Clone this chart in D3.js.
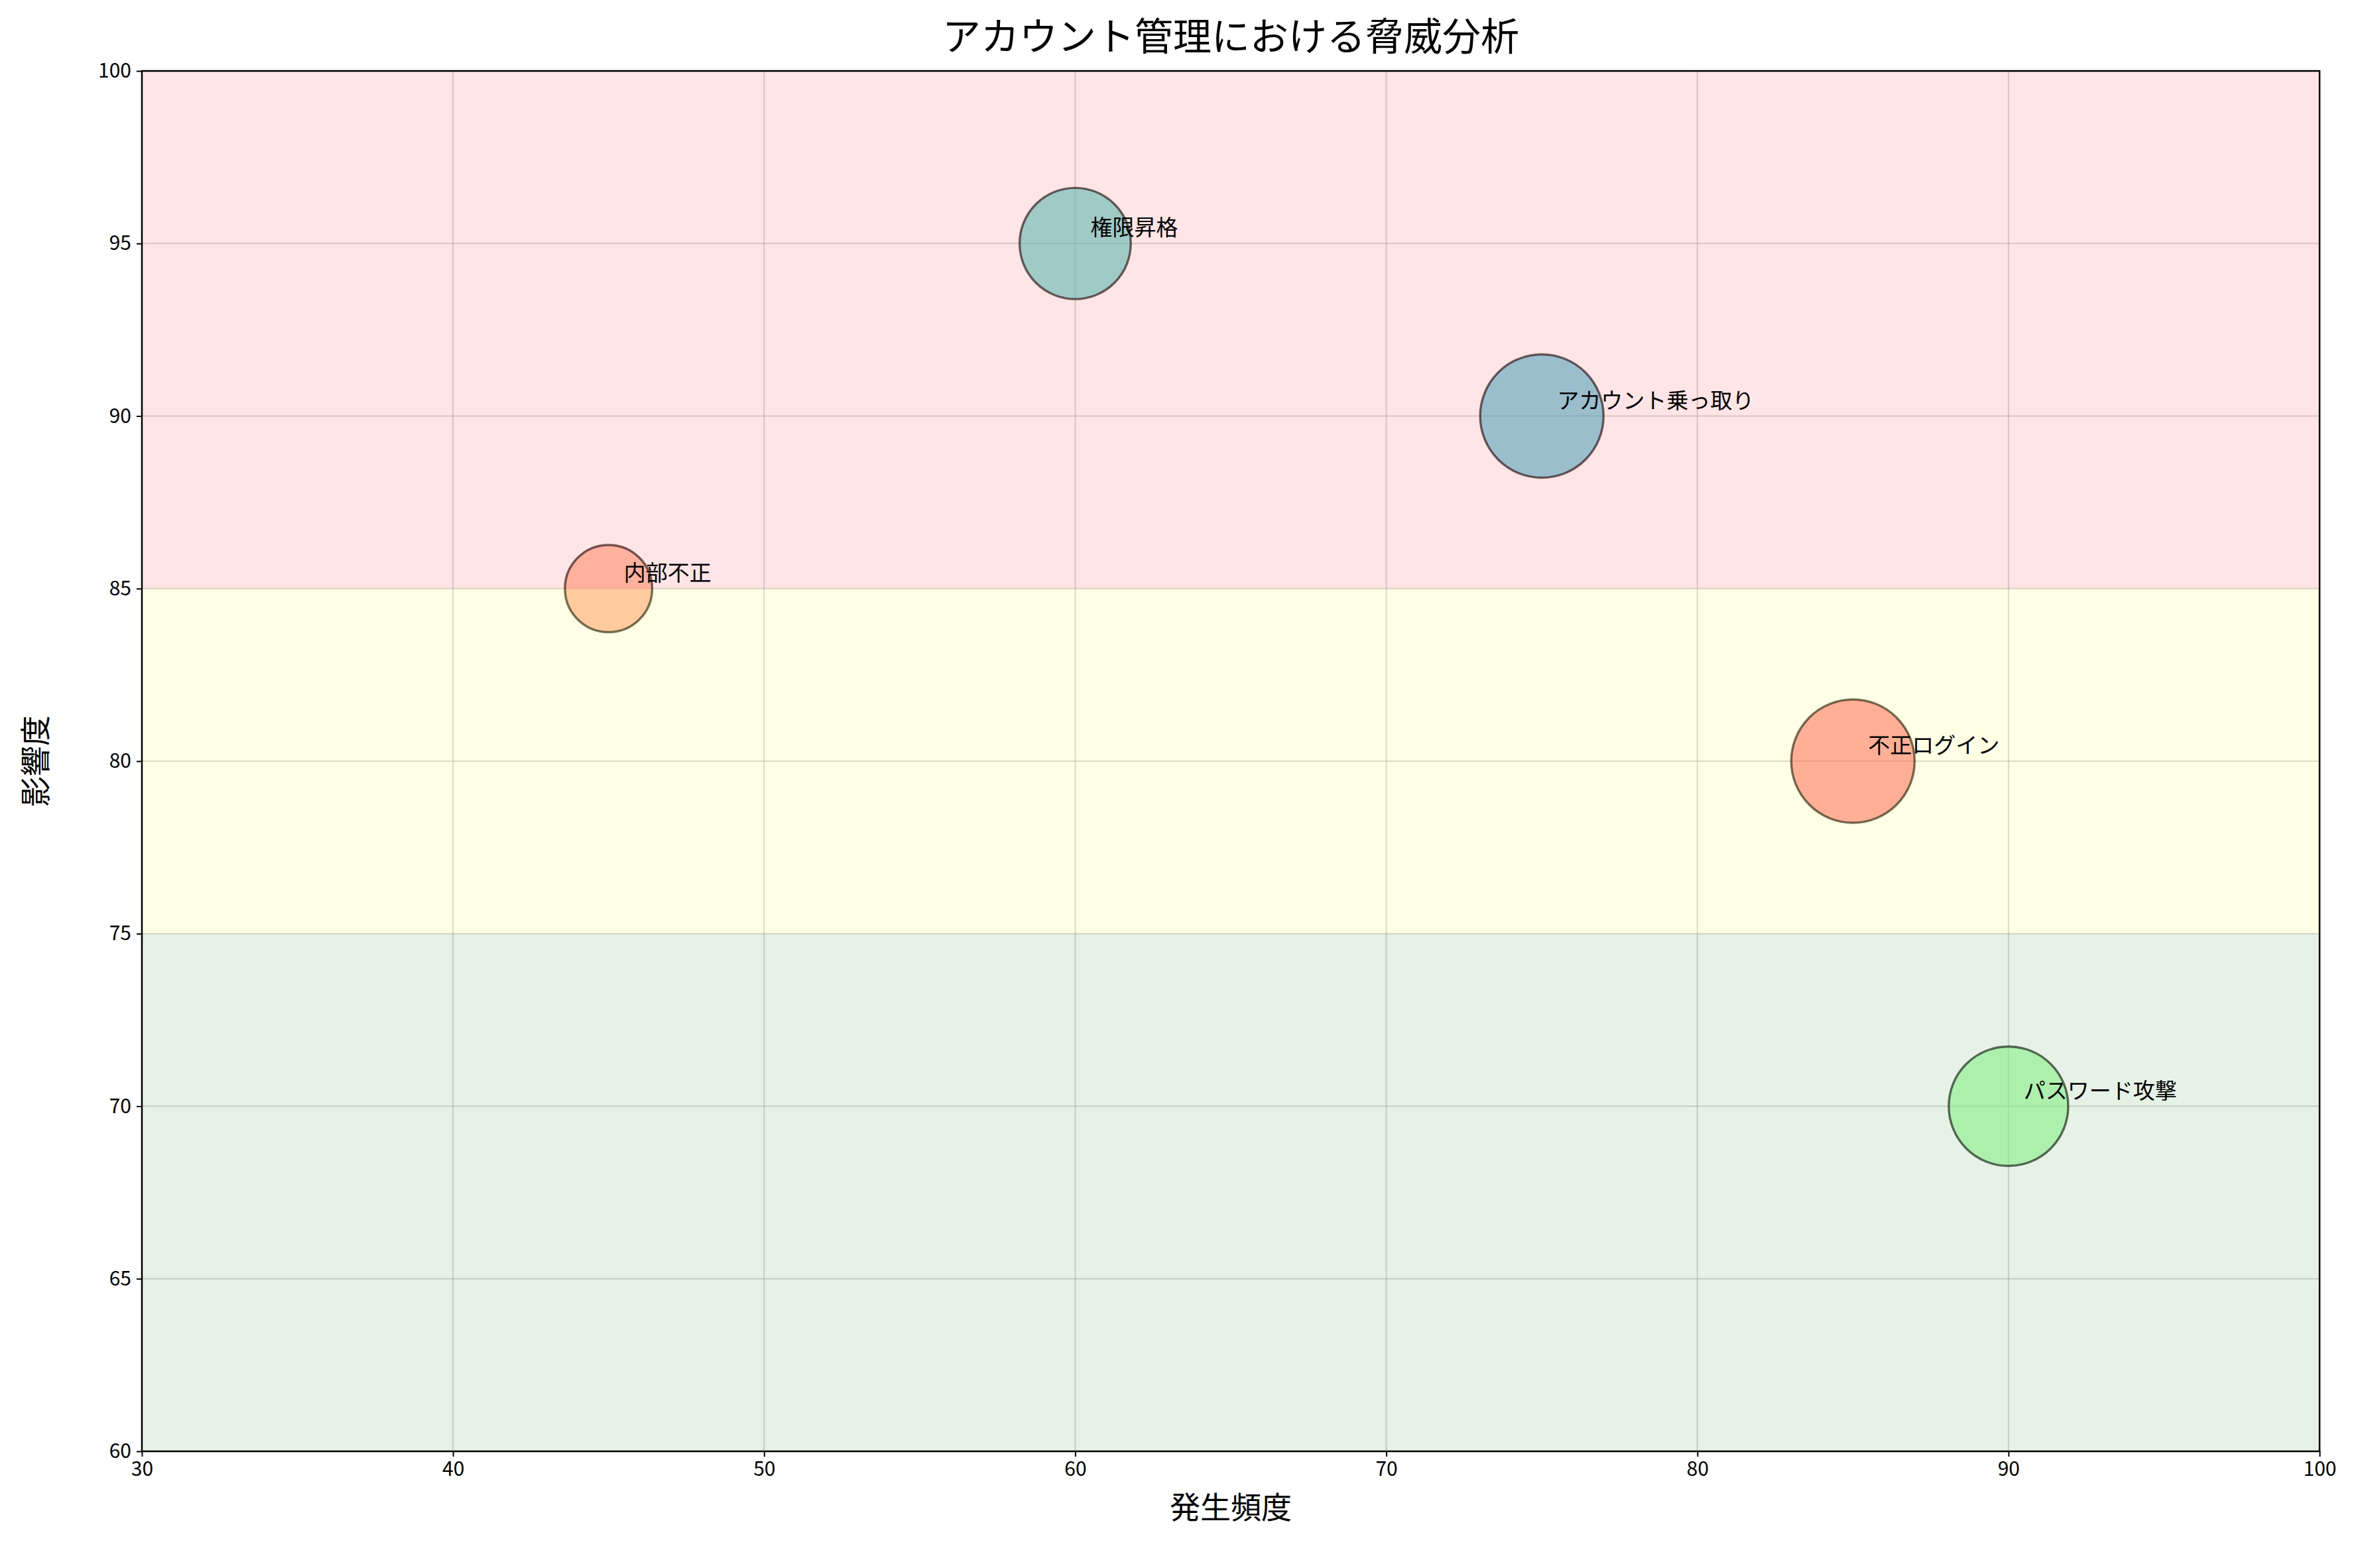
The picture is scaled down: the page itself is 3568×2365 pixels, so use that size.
<!DOCTYPE html>
<html><head><meta charset="utf-8">
<script src="https://cdn.jsdelivr.net/npm/d3@7"></script>
<style>body{margin:0;background:#fff}svg{display:block}text{font-family:"Noto Sans CJK JP","DejaVu Sans",sans-serif}</style>
</head><body><svg id="c" width="3568" height="2365"></svg>
<script>
const threats = ["権限昇格","アカウント乗っ取り","内部不正","不正ログイン","パスワード攻撃"];
const frequency = [60,75,45,85,90];
const impact = [95,90,85,80,70];
const riskSize = [65,80,40,80,75];
const colors = ["#4ECDC4","#45B7D1","#FFA07A","#FF6B6B","#98FB98"];
const zones = [{from:85,to:100,color:"red"},{from:75,to:85,color:"yellow"},{from:60,to:75,color:"green"}];
const xTicks = [30,40,50,60,70,80,90,100];
const yTicks = [60,65,70,75,80,85,90,95,100];

const svg = d3.select("#c");
const L=214,R=3498,T=107,B=2189;
const x = d3.scaleLinear().domain([30,100]).range([L,R]);
const y = d3.scaleLinear().domain([60,100]).range([B,T]);
const r = v => 10.4*Math.sqrt(v);

// grid
const g = svg.append("g");
g.selectAll(".gx").data(xTicks).join("line").attr("x1",d=>x(d)).attr("x2",d=>x(d)).attr("y1",T).attr("y2",B)
 .attr("stroke","#b0b0b0").attr("stroke-opacity",0.5).attr("stroke-width",2);
g.selectAll(".gy").data(yTicks).join("line").attr("y1",d=>y(d)).attr("y2",d=>y(d)).attr("x1",L).attr("x2",R)
 .attr("stroke","#b0b0b0").attr("stroke-opacity",0.5).attr("stroke-width",2);

// bubbles
const idx = d3.range(threats.length);
svg.append("g").selectAll("circle").data(idx).join("circle")
 .attr("cx",i=>x(frequency[i])).attr("cy",i=>y(impact[i])).attr("r",i=>r(riskSize[i]))
 .attr("fill",i=>colors[i]).attr("fill-opacity",0.6)
 .attr("stroke","#000").attr("stroke-opacity",0.6).attr("stroke-width",3.4);

// zones overlay
svg.append("g").selectAll("rect").data(zones).join("rect")
 .attr("x",L).attr("width",R-L).attr("y",d=>y(d.to)).attr("height",d=>y(d.from)-y(d.to))
 .attr("fill",d=>d.color).attr("fill-opacity",0.1);

// labels
svg.append("g").selectAll("text").data(idx).join("text")
 .attr("x",i=>x(frequency[i])+23).attr("y",i=>y(impact[i])-12)
 .attr("font-size",33).text(i=>threats[i]);

// axes
const xa = svg.append("g").attr("transform",`translate(0,${B})`).call(d3.axisBottom(x).tickValues(xTicks).tickSize(8).tickPadding(8));
const ya = svg.append("g").attr("transform",`translate(${L},0)`).call(d3.axisLeft(y).tickValues(yTicks).tickSize(8).tickPadding(8));
[xa,ya].forEach(a=>{a.selectAll("text").attr("font-size",30).attr("font-family","DejaVu Sans").attr("fill","#000");
 a.selectAll("line").attr("stroke-width",2);a.select(".domain").remove();});
svg.append("rect").attr("x",L).attr("y",T).attr("width",R-L).attr("height",B-T).attr("fill","none").attr("stroke","#000").attr("stroke-width",2.5);

svg.append("text").attr("x",(L+R)/2).attr("y",2290).attr("text-anchor","middle").attr("font-size",46).text("発生頻度");
svg.append("text").attr("transform",`translate(70,${(T+B)/2}) rotate(-90)`).attr("text-anchor","middle").attr("font-size",46).text("影響度");
svg.append("text").attr("x",(L+R)/2).attr("y",76).attr("text-anchor","middle").attr("font-size",58).text("アカウント管理における脅威分析");
</script></body></html>
